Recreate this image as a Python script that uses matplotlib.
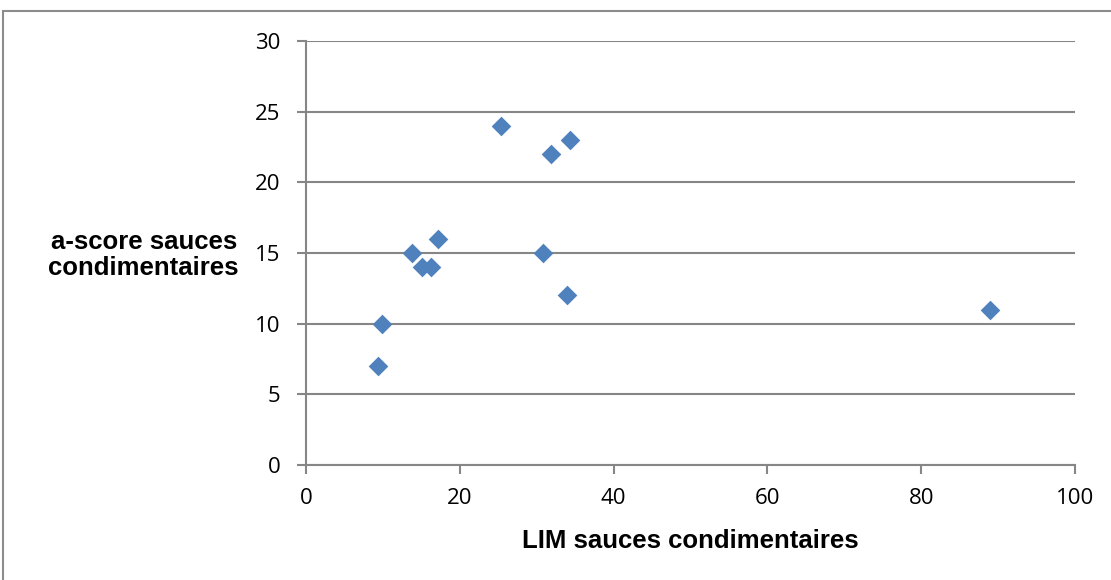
import matplotlib.pyplot as plt
from matplotlib.patches import Rectangle

# LIM vs a-score, sauces condimentaires
lim = [9.4, 9.9, 13.8, 15.1, 16.3, 17.2, 25.4, 30.8, 31.9, 33.9, 34.3, 89.0]
a_score = [7, 10, 15, 14, 14, 16, 24, 15, 22, 12, 23, 11]

plt.rcParams['font.family'] = ['Open Sans', 'DejaVu Sans']

fig = plt.figure(figsize=(11.11, 5.80), dpi=100)

# outer chart frame
fig.patches.append(Rectangle((3 / 1111, -0.05), 1.2, 1 - 11 / 580 + 0.05,
                             transform=fig.transFigure, fill=False,
                             edgecolor='#8c8c8c', linewidth=1.5))

ax = fig.add_axes([306 / 1111, 1 - 465 / 580, (1075 - 306) / 1111, (465 - 41) / 580])

ax.scatter(lim, a_score, marker='D', s=100, color='#4F81BD', zorder=3,
           linewidths=0)

ax.set_xlim(0, 100)
ax.set_ylim(0, 30)
ax.set_xticks(range(0, 101, 20))
ax.set_yticks(range(0, 31, 5))
ax.grid(axis='y', color='#868686', linewidth=1.5, zorder=0)
ax.set_axisbelow(True)

for side in ['top', 'right']:
    ax.spines[side].set_visible(False)
for side in ['left', 'bottom']:
    ax.spines[side].set_color('#868686')
    ax.spines[side].set_linewidth(1.5)

ax.tick_params(axis='both', colors='#868686', length=6.5, width=1.5,
               labelcolor='black', labelsize=16)
ax.tick_params(axis='y', pad=12)
ax.tick_params(axis='x', pad=10)

ax.set_xlabel('LIM sauces condimentaires', family=['Liberation Sans'],
              fontsize=18.5, fontweight='bold', va='center')
ax.xaxis.set_label_coords(0.5, -0.179)
ax.set_ylabel('a-score sauces\ncondimentaires', family=['Liberation Sans'],
              fontsize=18.5, fontweight='bold', rotation=0, ha='center',
              va='center', linespacing=1.1)
ax.yaxis.set_label_coords(-0.211, 0.495)

plt.savefig('out.png', dpi=100)
plt.close()
